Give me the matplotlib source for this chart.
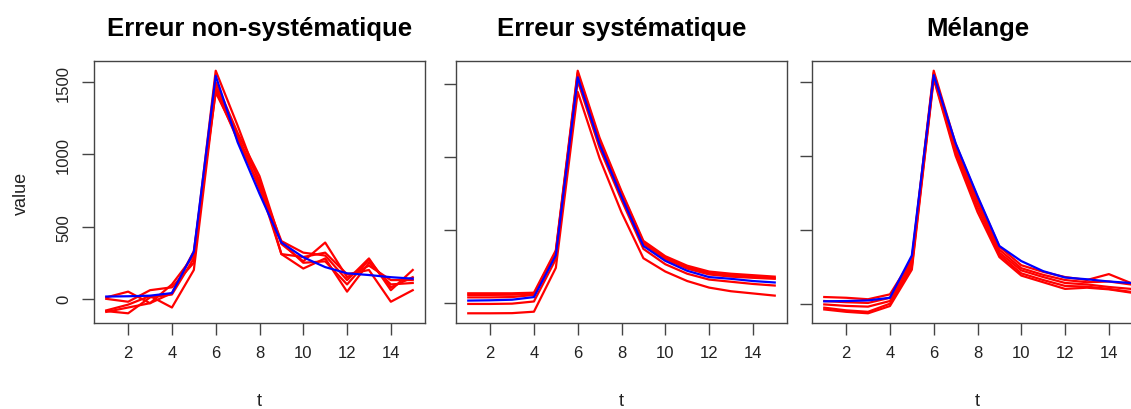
import matplotlib
matplotlib.use("Agg")
import matplotlib.pyplot as plt
import numpy as np

plt.rcParams['font.family'] = ['Liberation Sans', 'DejaVu Sans']

t = list(range(1, 16))
titles = ["Erreur non-systématique", "Erreur systématique", "Mélange"]
xticks = [2, 4, 6, 8, 10, 12, 14]
yticks = [0, 500, 1000, 1500]

true_curve = [16, 18, 22, 40, 326, 1545, 1085, 728, 390, 288, 220, 177, 165, 150, 140]

p1_red1 = [10, 50, -30, 100, 300, 1580, 1200, 800, 400, 320, 300, 130, 280, 60, 200]
p1_red2 = [0, -20, 60, 80, 250, 1500, 1150, 850, 380, 260, 390, 150, 230, 130, 130]
p1_red3 = [-80, -40, 20, -60, 200, 1450, 1100, 780, 310, 210, 280, 50, 250, 100, 110]
p1_red4 = [-90, -60, -30, 40, 330, 1430, 1120, 820, 310, 290, 320, 170, 200, -20, 60]
p1_red5 = [-85, -100, 10, 30, 280, 1470, 1130, 760, 390, 250, 260, 100, 270, 80, 150]

p2_red1 = [66, 66, 66, 70, 360, 1590, 1130, 765, 425, 320, 255, 215, 200, 190, 180]
p2_red2 = [55, 55, 56, 62, 350, 1575, 1115, 755, 415, 310, 245, 205, 190, 180, 170]
p2_red3 = [38, 38, 40, 55, 340, 1560, 1105, 745, 405, 300, 235, 195, 180, 172, 165]
p2_red4 = [-7, -7, -5, 10, 300, 1520, 1060, 705, 370, 265, 200, 160, 145, 130, 119]
p2_red5 = [-71, -71, -70, -60, 240, 1445, 990, 620, 306, 215, 150, 105, 80, 65, 50]

p3_red1 = [45, 40, 30, 63, 300, 1575, 1080, 720, 385, 260, 215, 180, 160, 200, 140]
p3_red2 = [18, 10, 5, 40, 290, 1560, 1060, 700, 365, 240, 195, 160, 145, 150, 130]
p3_red3 = [-5, -15, -20, 18, 270, 1540, 1040, 680, 345, 225, 180, 140, 130, 113, 100]
p3_red4 = [-27, -45, -55, 0, 250, 1530, 1020, 650, 330, 205, 160, 120, 115, 100, 80]
p3_red5 = [-39, -55, -65, -16, 230, 1520, 1000, 620, 315, 190, 145, 100, 108, 97, 75]

panels = [
    [p1_red1, p1_red2, p1_red3, p1_red4, p1_red5],
    [p2_red1, p2_red2, p2_red3, p2_red4, p2_red5],
    [p3_red1, p3_red2, p3_red3, p3_red4, p3_red5],
]

W, H = 1131, 410
fig = plt.figure(figsize=(W / 100, H / 100), dpi=100)
lefts = [94, 456, 812]
aw, top, bottom = 331, 62, 324
edge = '#444444'

for i, (reds, title) in enumerate(zip(panels, titles)):
    ax = fig.add_axes([lefts[i] / W, 1 - bottom / H, aw / W, (bottom - top) / H])
    for r in reds:
        ax.plot(t, r, color='#FF0000', lw=1.6)
    ax.plot(t, true_curve, color='#0000FF', lw=1.6)
    ax.margins(x=0.04, y=0.04)
    ax.set_xticks(xticks)
    ax.set_yticks(yticks)
    for s in ax.spines.values():
        s.set_color(edge)
        s.set_linewidth(1.0)
    ax.tick_params(axis='both', direction='out', length=8.5, width=1.0, color=edge,
                   labelsize=12, labelcolor='#222222')
    ax.tick_params(axis='x', pad=7.5)
    ax.tick_params(axis='y', pad=8, labelrotation=90)
    for lab in ax.get_yticklabels():
        lab.set_va('center')
    if i > 0:
        ax.set_yticklabels([])
    else:
        ax.set_ylabel('value', fontsize=13, color='#222222')
        ax.yaxis.set_label_coords(-0.193, 0.5)
    ax.set_xlabel('t', fontsize=13, color='#222222')
    ax.xaxis.set_label_coords(0.5, -0.262)
    ax.set_title(title, fontsize=18.5, fontweight='bold', pad=18.5)

fig.savefig('out.png', dpi=100)
